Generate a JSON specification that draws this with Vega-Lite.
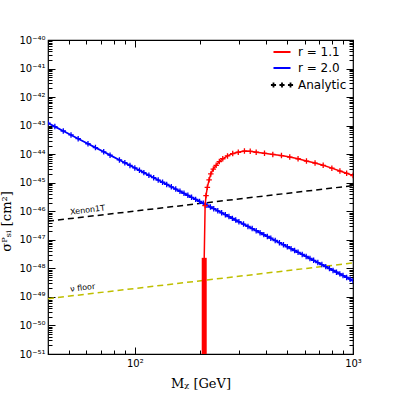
{
  "$schema": "https://vega.github.io/schema/vega-lite/v6.json",
  "width": 305,
  "height": 314,
  "autosize": "none",
  "padding": {"left": 48, "top": 40, "right": 42, "bottom": 41},
  "background": "white",
  "config": {
    "view": {"stroke": "black", "strokeWidth": 1.2},
    "axis": {
      "domain": false,
      "grid": false,
      "tickColor": "black",
      "tickWidth": 1,
      "labelFont": "DejaVu Sans",
      "labelFontSize": 10,
      "labelColor": "black",
      "labelOverlap": false,
      "labelFlush": false,
      "titleColor": "black",
      "titleFont": "DejaVu Serif",
      "titleFontSize": 13,
      "titleFontWeight": "normal"
    }
  },
  "datasets": {
    "blue": [
      {"M": 40, "S": 1.23e-43}, {"M": 43, "S": 9.25e-44}, {"M": 47, "S": 6.5e-44}, {"M": 51, "S": 4.71e-44},
      {"M": 55, "S": 3.49e-44}, {"M": 61, "S": 2.32e-44}, {"M": 66, "S": 1.7e-44}, {"M": 72, "S": 1.21e-44},
      {"M": 77, "S": 9.25e-45}, {"M": 85, "S": 6.27e-45}, {"M": 90, "S": 5.0e-45}, {"M": 95, "S": 4.04e-45},
      {"M": 100, "S": 3.3e-45}, {"M": 105, "S": 2.72e-45}, {"M": 110, "S": 2.26e-45}, {"M": 116, "S": 1.83e-45},
      {"M": 122, "S": 1.5e-45}, {"M": 128, "S": 1.24e-45}, {"M": 134, "S": 1.04e-45}, {"M": 140, "S": 8.73e-46},
      {"M": 147, "S": 7.19e-46}, {"M": 154, "S": 5.98e-46}, {"M": 161, "S": 5.02e-46}, {"M": 168, "S": 4.25e-46},
      {"M": 175, "S": 3.61e-46}, {"M": 182, "S": 3.09e-46}, {"M": 190, "S": 2.61e-46}, {"M": 198, "S": 2.22e-46},
      {"M": 206, "S": 1.9e-46}, {"M": 214, "S": 1.63e-46}, {"M": 222, "S": 1.41e-46}, {"M": 230, "S": 1.23e-46},
      {"M": 240, "S": 1.04e-46}, {"M": 250, "S": 8.83e-47}, {"M": 260, "S": 7.57e-47}, {"M": 270, "S": 6.52e-47},
      {"M": 280, "S": 5.64e-47}, {"M": 290, "S": 4.91e-47}, {"M": 300, "S": 4.3e-47}, {"M": 315, "S": 3.55e-47},
      {"M": 330, "S": 2.95e-47}, {"M": 345, "S": 2.48e-47}, {"M": 360, "S": 2.09e-47}, {"M": 375, "S": 1.78e-47},
      {"M": 390, "S": 1.52e-47}, {"M": 405, "S": 1.31e-47}, {"M": 420, "S": 1.14e-47}, {"M": 440, "S": 9.46e-48},
      {"M": 460, "S": 7.94e-48}, {"M": 480, "S": 6.71e-48}, {"M": 500, "S": 5.71e-48}, {"M": 520, "S": 4.9e-48},
      {"M": 540, "S": 4.22e-48}, {"M": 560, "S": 3.66e-48}, {"M": 585, "S": 3.07e-48}, {"M": 610, "S": 2.61e-48},
      {"M": 635, "S": 2.22e-48}, {"M": 660, "S": 1.91e-48}, {"M": 690, "S": 1.6e-48}, {"M": 720, "S": 1.36e-48},
      {"M": 750, "S": 1.15e-48}, {"M": 780, "S": 9.86e-49}, {"M": 810, "S": 8.49e-49}, {"M": 840, "S": 7.36e-49},
      {"M": 870, "S": 6.41e-49}, {"M": 900, "S": 5.61e-49}, {"M": 935, "S": 4.82e-49}, {"M": 970, "S": 4.17e-49},
      {"M": 1000, "S": 3.7e-49}
    ],
    "red": [
      {"M": 207.9, "S": 1e-51}, {"M": 208, "S": 2.34e-48}, {"M": 210, "S": 1.58e-46}, {"M": 212, "S": 3.55e-46},
      {"M": 215, "S": 6.92e-46}, {"M": 219, "S": 1.26e-45}, {"M": 223, "S": 2.04e-45}, {"M": 229, "S": 3.02e-45},
      {"M": 236, "S": 4.07e-45}, {"M": 244, "S": 5.5e-45}, {"M": 253, "S": 6.92e-45}, {"M": 266, "S": 8.71e-45},
      {"M": 281, "S": 1.05e-44}, {"M": 298, "S": 1.17e-44}, {"M": 318, "S": 1.29e-44}, {"M": 338, "S": 1.26e-44},
      {"M": 360, "S": 1.17e-44}, {"M": 393, "S": 1.07e-44}, {"M": 429, "S": 9.77e-45}, {"M": 470, "S": 8.91e-45},
      {"M": 513, "S": 7.94e-45}, {"M": 560, "S": 6.92e-45}, {"M": 612, "S": 5.75e-45}, {"M": 670, "S": 4.9e-45},
      {"M": 730, "S": 4.07e-45}, {"M": 800, "S": 3.24e-45}, {"M": 871, "S": 2.57e-45}, {"M": 935, "S": 2.14e-45},
      {"M": 1000, "S": 1.78e-45}
    ],
    "bar": [{"M": 208, "S": 1e-51, "S2": 2.34e-48}],
    "xenon": [{"M": 40, "S": 4.5e-47}, {"M": 1000, "S": 7.9e-46}],
    "nu": [{"M": 40, "S": 8.7e-50}, {"M": 1000, "S": 1.55e-48}],
    "notes": [
      {"M": 50.7, "S": 7.6e-47, "label": "Xenon1T"},
      {"M": 50.7, "S": 1.51e-49, "label": "ν floor"}
    ]
  },
  "layer": [
    {
      "data": {"name": "xenon"},
      "mark": {"type": "line", "color": "black", "strokeWidth": 1.5, "strokeDash": [6, 4], "clip": true},
      "encoding": {
        "x": {
          "field": "M", "type": "quantitative",
          "scale": {"type": "log", "domain": [40, 1000], "nice": false},
          "axis": {
            "orient": "bottom",
            "title": "Mᵪ [GeV]",
            "titlePadding": 6,
            "tickCount": 20,
            "labelPadding": 11,
            "labelExpr": "datum.value == 100 ? '10²' : (datum.value == 1000 ? '10³' : '')",
            "tickSize": {"condition": {"test": "datum.value == 100 || datum.value == 1000", "value": -7}, "value": -4}
          }
        },
        "y": {
          "field": "S", "type": "quantitative",
          "scale": {"type": "log", "domain": [1e-51, 1e-40], "nice": false},
          "axis": {
            "orient": "left",
            "title": "σᴾₛᵢ [cm²]",
            "titlePadding": 5,
            "titleY": 181,
            "tickCount": 20,
            "labelPadding": 10,
            "labelExpr": "abs(log(datum.value)/LN10 - round(log(datum.value)/LN10)) < 1e-6 ? '10⁻' + ['⁰','¹','²','³','⁴','⁵','⁶','⁷','⁸','⁹'][floor(-round(log(datum.value)/LN10)/10)] + ['⁰','¹','²','³','⁴','⁵','⁶','⁷','⁸','⁹'][(-round(log(datum.value)/LN10)) % 10] : ''",
            "tickSize": {"condition": {"test": "abs(log(datum.value)/LN10 - round(log(datum.value)/LN10)) < 1e-6", "value": -7}, "value": -4}
          }
        }
      }
    },
    {
      "data": {"name": "nu"},
      "mark": {"type": "line", "color": "#bfbf00", "strokeWidth": 1.5, "strokeDash": [6, 4], "clip": true},
      "encoding": {
        "x": {
          "field": "M", "type": "quantitative",
          "axis": {
            "orient": "top", "title": null, "labels": false, "tickCount": 20,
            "tickSize": {"condition": {"test": "datum.value == 100 || datum.value == 1000", "value": -7}, "value": -4}
          }
        },
        "y": {
          "field": "S", "type": "quantitative",
          "axis": {
            "orient": "right", "title": null, "labels": false, "tickCount": 20,
            "tickSize": {"condition": {"test": "abs(log(datum.value)/LN10 - round(log(datum.value)/LN10)) < 1e-6", "value": -7}, "value": -4}
          }
        }
      }
    },
    {
      "data": {"name": "blue"},
      "mark": {"type": "line", "strokeWidth": 1.8, "clip": true},
      "encoding": {
        "x": {"field": "M", "type": "quantitative", "axis": null},
        "y": {"field": "S", "type": "quantitative", "axis": null},
        "color": {
          "datum": "r = 2.0",
          "type": "nominal",
          "scale": {"domain": ["r = 1.1", "r = 2.0", "Analytic"], "range": ["#ff0000", "#0000ff", "#000000"]},
          "legend": {
            "orient": "top-right",
            "offset": 6,
            "title": null,
            "padding": 0,
            "symbolType": "stroke",
            "symbolSize": 290,
            "symbolStrokeWidth": 2,
            "labelFont": "DejaVu Sans",
            "labelFontSize": 12,
            "labelColor": "black",
            "labelOffset": 10,
            "rowPadding": 4,
            "encode": {
              "symbols": {
                "update": {
                  "shape": {"signal": "datum.value === 'Analytic' ? 'M-1.3,0H-0.7M-1,-0.3V0.3M-0.3,0H0.3M0,-0.3V0.3M0.7,0H1.3M1,-0.3V0.3' : 'stroke'"},
                  "strokeWidth": {"signal": "datum.value === 'Analytic' ? 1.8 : 2"}
                }
              }
            }
          }
        }
      }
    },
    {
      "data": {"name": "blue"},
      "mark": {"type": "point", "shape": "M-1,0H1M0,-1V1", "size": 30, "strokeWidth": 1.3, "filled": false, "opacity": 1, "clip": true},
      "encoding": {
        "x": {"field": "M", "type": "quantitative", "axis": null},
        "y": {"field": "S", "type": "quantitative", "axis": null},
        "color": {"datum": "r = 2.0", "type": "nominal"}
      }
    },
    {
      "data": {"name": "bar"},
      "mark": {"type": "rule", "color": "#ff0000", "strokeWidth": 5, "clip": true},
      "encoding": {
        "x": {"field": "M", "type": "quantitative", "axis": null},
        "y": {"field": "S", "type": "quantitative", "axis": null},
        "y2": {"field": "S2"}
      }
    },
    {
      "data": {"name": "red"},
      "mark": {"type": "line", "strokeWidth": 1.5, "clip": true},
      "encoding": {
        "x": {"field": "M", "type": "quantitative", "axis": null},
        "y": {"field": "S", "type": "quantitative", "axis": null},
        "color": {"datum": "r = 1.1", "type": "nominal"}
      }
    },
    {
      "data": {"name": "red"},
      "transform": [{"filter": "datum.S > 1e-47"}],
      "mark": {"type": "point", "shape": "M-1,0H1M0,-1V1", "size": 30, "strokeWidth": 1.3, "filled": false, "opacity": 1, "clip": true},
      "encoding": {
        "x": {"field": "M", "type": "quantitative", "axis": null},
        "y": {"field": "S", "type": "quantitative", "axis": null},
        "color": {"datum": "r = 1.1", "type": "nominal"}
      }
    },
    {
      "data": {"name": "notes"},
      "mark": {"type": "text", "align": "left", "baseline": "alphabetic", "angle": -7, "font": "DejaVu Sans", "fontSize": 8, "color": "black"},
      "encoding": {
        "x": {"field": "M", "type": "quantitative", "axis": null},
        "y": {"field": "S", "type": "quantitative", "axis": null},
        "text": {"field": "label"}
      }
    }
  ],
  "resolve": {
    "scale": {"x": "shared", "y": "shared"},
    "axis": {"x": "independent", "y": "independent"}
  }
}
